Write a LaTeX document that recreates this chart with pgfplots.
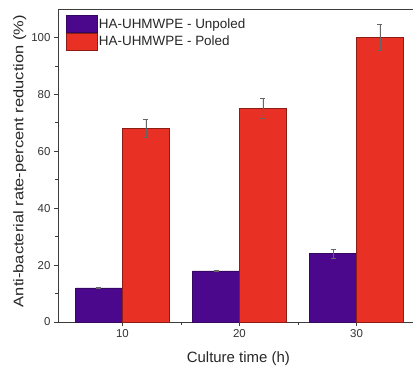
\documentclass[border=0pt]{standalone}
\usepackage{pgfplots}
\pgfplotsset{compat=1.18}
\usepackage{fontspec}
\setmainfont{Liberation Sans}
\definecolor{unpol}{RGB}{76,8,140}
\definecolor{pol}{RGB}{232,48,36}
\definecolor{axc}{RGB}{60,60,60}
\begin{document}
\begin{tikzpicture}
\begin{axis}[
  scale only axis,
  width=355bp, height=313bp,
  xmin=4.5, xmax=34.82, ymin=0, ymax=110,
  axis x line*=bottom, axis y line*=left,
  xtick={10,20,30}, minor xtick={15,25},
  ytick={0,20,40,60,80,100}, minor ytick={10,30,50,70,90},
  tick align=outside,
  major tick length=4bp, minor tick length=3bp,
  every tick/.style={axc, line width=0.7pt},
  axis line style={axc, line width=0.9pt, -},
  /pgf/number format/assume math mode=true,
  ticklabel style={font=\fontsize{11.5}{13}\selectfont, text=black!80},
  xlabel={Culture time (h)},
  ylabel={\scalebox{1.18}[1]{Anti-bacterial rate-percent reduction (\%)}},
  xlabel style={font=\fontsize{15}{17}\selectfont, text=black!85, at={(axis description cs:0.508,-0.128)}, anchor=base},
  ylabel style={font=\fontsize{14}{16}\selectfont, text=black!85, at={(axis description cs:-0.108,0.514)}, anchor=center},
  ybar, bar width=4,
  legend style={at={(axis description cs:0,1)}, anchor=north west, xshift=8bp, yshift=-6bp,
    draw=none, fill=none, inner sep=0pt, row sep=0pt,
    font=\fontsize{13.5}{15}\selectfont, text=black!85,
    nodes={inner sep=1.2bp}},
  legend cell align=left,
  legend image code/.code={\draw[#1] (0bp,-8.5bp) rectangle (31bp,8.5bp);},
  error bars/y dir=both, error bars/y explicit,
  error bars/error bar style={gray!80!black, line width=0.6pt},
  error bars/error mark options={rotate=90, mark size=2.5pt, gray!80!black, line width=0.6pt},
]
\addplot[fill=unpol, draw=unpol!70!black, line width=0.5pt, bar shift=-2]
  coordinates {(10,12) +- (0,0.2) (20,18) +- (0,0.3) (30,24) +- (0,1.5)};
\addplot[fill=pol, draw=pol!60!black, line width=0.5pt, bar shift=2]
  coordinates {(10,68) +- (0,3.2) (20,75) +- (0,3.5) (30,100) +- (0,4.6)};
\legend{HA-UHMWPE - Unpoled, HA-UHMWPE - Poled}
\draw[axc, line width=0.9pt] (rel axis cs:0,1) -- (rel axis cs:1,1);
\end{axis}
\pgfresetboundingbox
\useasboundingbox (-58bp,-45bp) rectangle (355bp,322bp);
\end{tikzpicture}
\end{document}
